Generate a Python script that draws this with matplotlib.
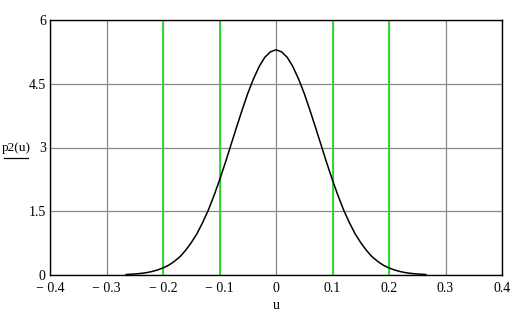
import matplotlib
matplotlib.use("Agg")
import matplotlib.pyplot as plt
from matplotlib.lines import Line2D

plt.rcParams['font.family'] = ['Liberation Serif', 'DejaVu Serif']

### u values and p2(u) (curve runs about -0.265 .. 0.265)
u_vals = [-0.265, -0.25, -0.24, -0.23, -0.22, -0.21, -0.20, -0.19, -0.18, -0.17, -0.16,
          -0.15, -0.14, -0.13, -0.12, -0.11, -0.10, -0.09, -0.08, -0.07, -0.06,
          -0.05, -0.04, -0.03, -0.02, -0.01, 0.0,
          0.01, 0.02, 0.03, 0.04, 0.05, 0.06, 0.07, 0.08, 0.09, 0.10,
          0.11, 0.12, 0.13, 0.14, 0.15, 0.16, 0.17, 0.18, 0.19, 0.20,
          0.21, 0.22, 0.23, 0.24, 0.25, 0.265]
p2_vals = [0.012, 0.024, 0.036, 0.054, 0.080, 0.117, 0.166, 0.23, 0.32, 0.43, 0.58,
           0.76, 0.97, 1.23, 1.52, 1.86, 2.23, 2.63, 3.05, 3.47, 3.88,
           4.27, 4.61, 4.90, 5.12, 5.25, 5.30,
           5.25, 5.12, 4.90, 4.61, 4.27, 3.88, 3.47, 3.05, 2.63, 2.23,
           1.86, 1.52, 1.23, 0.97, 0.76, 0.58, 0.43, 0.32, 0.23, 0.166,
           0.117, 0.080, 0.054, 0.036, 0.024, 0.012]

### green marker lines
markers = [-0.2, -0.1, 0.1, 0.2]

x_ticks = [-0.4, -0.3, -0.2, -0.1, 0, 0.1, 0.2, 0.3, 0.4]
x_labels = ["\u2212 0.4", "\u2212 0.3", "\u2212 0.2", "\u2212 0.1", "0", "0.1", "0.2", "0.3", "0.4"]
y_ticks = [0, 1.5, 3, 4.5, 6]
y_labels = ["0", "1.5", "3", "4.5", "6"]

fig = plt.figure(figsize=(5.2, 3.19), dpi=100)
ax = fig.add_axes([50/520, 1-275/319, 452/520, 255/319])

ax.set_xlim(-0.4, 0.4)
ax.set_ylim(0, 6)
ax.set_xticks(x_ticks)
ax.set_xticklabels(x_labels)
ax.set_yticks(y_ticks)
ax.set_yticklabels(y_labels)
ax.tick_params(length=0, labelsize=10)
ax.tick_params(axis='x', pad=5)
ax.tick_params(axis='y', pad=3)
ax.grid(True, color='#888888', linewidth=0.9)
ax.set_axisbelow(True)

for m in markers:
	ax.axvline(m, color='#22dd22', linewidth=1.3, zorder=2)

ax.plot(u_vals, p2_vals, color='black', linewidth=1.1, zorder=3)

for s in ax.spines.values():
	s.set_color('black')
	s.set_linewidth(1.0)

ax.set_xlabel("u", fontsize=10, labelpad=3)

fig.text(16/520, 1-148/319, "p2(u)", fontsize=9.5, ha='center', va='center')
fig.add_artist(Line2D([4/520, 28/520], [1-158/319, 1-158/319], color='black', linewidth=0.9))

fig.savefig("out.png", dpi=100)
